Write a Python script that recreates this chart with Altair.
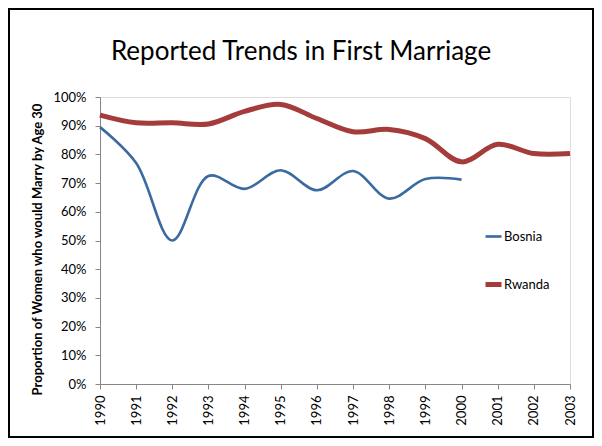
import altair as alt
import pandas as pd

years = list(range(1990, 2004))
bosnia_years = list(range(1990, 2001))
bosnia = [0.895, 0.77, 0.50, 0.725, 0.68, 0.745, 0.675, 0.742, 0.646, 0.714, 0.712]
rwanda = [0.937, 0.910, 0.910, 0.906, 0.950, 0.974, 0.925, 0.879, 0.887, 0.855, 0.774, 0.835, 0.803, 0.803]
series = ["Bosnia", "Rwanda"]
colors = ["#3B6AA0", "#A33C3A"]
widths = [2.6, 5.0]
title_text = "Reported Trends in First Marriage"
y_title = "Proportion of Women who would Marry by Age 30"

rows = [{"year": y, "value": v, "country": "Bosnia"} for y, v in zip(bosnia_years, bosnia)]
rows += [{"year": y, "value": v, "country": "Rwanda"} for y, v in zip(years, rwanda)]
df = pd.DataFrame(rows)

FONT = "Lato"
W, H = 470, 287

legend_opts = dict(title=None, orient="none", legendX=383, legendY=130,
                   symbolType="stroke", symbolSize=256, rowPadding=30,
                   labelFont=FONT, labelFontSize=13, labelColor="#000000",
                   labelOffset=0, padding=0)

lines = alt.Chart(df).mark_line(interpolate="catmull-rom").encode(
    x=alt.X("year:Q", scale=alt.Scale(domain=[1990, 2003], nice=False, zero=False),
            axis=alt.Axis(values=years, format="d", labelAngle=-90, grid=False,
                          domainColor="#868686", tickColor="#868686", tickSize=5,
                          labelPadding=6, labelFont=FONT, labelFontSize=13,
                          labelColor="#000000", title=None)),
    y=alt.Y("value:Q", scale=alt.Scale(domain=[0, 1], nice=False),
            axis=alt.Axis(values=[i / 10 for i in range(11)], format=".0%", grid=False,
                          domainColor="#868686", tickColor="#868686", tickSize=5,
                          labelPadding=9, labelFont=FONT, labelFontSize=13,
                          labelColor="#000000", title=y_title, titleFont=FONT,
                          titleFontSize=13, titleFontWeight="bold", titleColor="#000000",
                          titleAngle=-90, titleX=-63, titleY=152, titleAlign="center",
                          titleBaseline="middle")),
    color=alt.Color("country:N", scale=alt.Scale(domain=series, range=colors),
                    legend=alt.Legend(**legend_opts)),
    strokeWidth=alt.StrokeWidth("country:N", scale=alt.Scale(domain=series, range=widths),
                                legend=alt.Legend(**legend_opts)),
)

title = alt.Chart(pd.DataFrame({"t": [title_text]})).mark_text(
    font=FONT, fontSize=26, align="center", baseline="alphabetic", color="#000000"
).encode(x=alt.value(201), y=alt.value(-37), text="t:N")

border = alt.Chart(pd.DataFrame({"a": [0]})).mark_rect(
    filled=False, stroke="#000000", strokeWidth=2
).encode(x=alt.value(-91), x2=alt.value(493), y=alt.value(-88), y2=alt.value(340))

chart = alt.layer(border, lines, title).properties(
    width=W, height=H,
    autosize=alt.AutoSizeParams(type="none"),
    padding={"left": 92, "top": 89, "right": 24, "bottom": 54},
).configure_view(stroke=None).configure(background="#ffffff")

chart.save("out.html", embed_options={"renderer": "svg", "actions": False})
